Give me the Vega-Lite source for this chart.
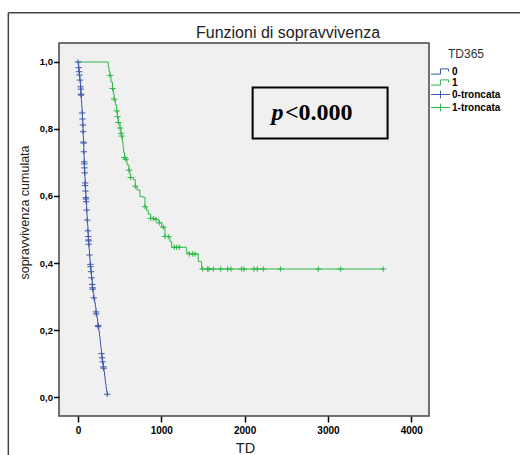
{
  "$schema": "https://vega.github.io/schema/vega-lite/v6.json",
  "width": 370,
  "height": 373,
  "autosize": {"type": "none"},
  "padding": {"left": 59, "top": 43, "right": 91, "bottom": 39},
  "background": "white",
  "title": {"text": "Funzioni di sopravvivenza", "anchor": "middle", "dx": 44, "dy": 48, "offset": 6, "baseline": "alphabetic", "frame": "group", "fontSize": 16, "fontWeight": "normal", "font": "Liberation Sans", "color": "#222"},
  "config": {"view": {"fill": "#f0f0f0", "stroke": "#444", "strokeWidth": 1.5}, "font": "Liberation Sans"},
  "data": {"values": [
    {"gruppo":"0","serie":"0-troncata","TD":0,"surv":1.0},
    {"gruppo":"0","serie":"0-troncata","TD":8,"surv":0.983},
    {"gruppo":"0","serie":"0-troncata","TD":13,"surv":0.971},
    {"gruppo":"0","serie":"0-troncata","TD":17,"surv":0.961},
    {"gruppo":"0","serie":"0-troncata","TD":23,"surv":0.946},
    {"gruppo":"0","serie":"0-troncata","TD":31,"surv":0.926},
    {"gruppo":"0","serie":"0-troncata","TD":33,"surv":0.919},
    {"gruppo":"0","serie":"0-troncata","TD":36,"surv":0.904},
    {"gruppo":"0","serie":"0-troncata","TD":37,"surv":0.901},
    {"gruppo":"0","serie":"0","TD":41,"surv":0.883},
    {"gruppo":"0","serie":"0","TD":45,"surv":0.866},
    {"gruppo":"0","serie":"0-troncata","TD":50,"surv":0.848},
    {"gruppo":"0","serie":"0-troncata","TD":54,"surv":0.830},
    {"gruppo":"0","serie":"0-troncata","TD":58,"surv":0.812},
    {"gruppo":"0","serie":"0-troncata","TD":61,"surv":0.792},
    {"gruppo":"0","serie":"0","TD":63,"surv":0.776},
    {"gruppo":"0","serie":"0-troncata","TD":66,"surv":0.761},
    {"gruppo":"0","serie":"0-troncata","TD":67,"surv":0.758},
    {"gruppo":"0","serie":"0-troncata","TD":70,"surv":0.732},
    {"gruppo":"0","serie":"0","TD":73,"surv":0.717},
    {"gruppo":"0","serie":"0-troncata","TD":75,"surv":0.702},
    {"gruppo":"0","serie":"0-troncata","TD":76,"surv":0.696},
    {"gruppo":"0","serie":"0-troncata","TD":78,"surv":0.684},
    {"gruppo":"0","serie":"0-troncata","TD":81,"surv":0.669},
    {"gruppo":"0","serie":"0","TD":83,"surv":0.654},
    {"gruppo":"0","serie":"0-troncata","TD":86,"surv":0.639},
    {"gruppo":"0","serie":"0-troncata","TD":87,"surv":0.631},
    {"gruppo":"0","serie":"0-troncata","TD":90,"surv":0.615},
    {"gruppo":"0","serie":"0-troncata","TD":95,"surv":0.595},
    {"gruppo":"0","serie":"0-troncata","TD":96,"surv":0.591},
    {"gruppo":"0","serie":"0-troncata","TD":98,"surv":0.583},
    {"gruppo":"0","serie":"0-troncata","TD":104,"surv":0.558},
    {"gruppo":"0","serie":"0","TD":107,"surv":0.543},
    {"gruppo":"0","serie":"0-troncata","TD":111,"surv":0.528},
    {"gruppo":"0","serie":"0","TD":115,"surv":0.512},
    {"gruppo":"0","serie":"0-troncata","TD":119,"surv":0.496},
    {"gruppo":"0","serie":"0-troncata","TD":123,"surv":0.479},
    {"gruppo":"0","serie":"0-troncata","TD":126,"surv":0.469},
    {"gruppo":"0","serie":"0-troncata","TD":127,"surv":0.466},
    {"gruppo":"0","serie":"0-troncata","TD":129,"surv":0.456},
    {"gruppo":"0","serie":"0","TD":133,"surv":0.440},
    {"gruppo":"0","serie":"0-troncata","TD":138,"surv":0.424},
    {"gruppo":"0","serie":"0","TD":142,"surv":0.410},
    {"gruppo":"0","serie":"0-troncata","TD":147,"surv":0.396},
    {"gruppo":"0","serie":"0-troncata","TD":150,"surv":0.389},
    {"gruppo":"0","serie":"0-troncata","TD":156,"surv":0.374},
    {"gruppo":"0","serie":"0-troncata","TD":163,"surv":0.356},
    {"gruppo":"0","serie":"0-troncata","TD":171,"surv":0.336},
    {"gruppo":"0","serie":"0-troncata","TD":175,"surv":0.326},
    {"gruppo":"0","serie":"0-troncata","TD":177,"surv":0.322},
    {"gruppo":"0","serie":"0","TD":183,"surv":0.309},
    {"gruppo":"0","serie":"0-troncata","TD":190,"surv":0.296},
    {"gruppo":"0","serie":"0","TD":200,"surv":0.282},
    {"gruppo":"0","serie":"0","TD":208,"surv":0.268},
    {"gruppo":"0","serie":"0-troncata","TD":216,"surv":0.254},
    {"gruppo":"0","serie":"0-troncata","TD":219,"surv":0.248},
    {"gruppo":"0","serie":"0","TD":227,"surv":0.236},
    {"gruppo":"0","serie":"0","TD":234,"surv":0.225},
    {"gruppo":"0","serie":"0-troncata","TD":241,"surv":0.213},
    {"gruppo":"0","serie":"0-troncata","TD":243,"surv":0.210},
    {"gruppo":"0","serie":"0","TD":250,"surv":0.196},
    {"gruppo":"0","serie":"0","TD":258,"surv":0.182},
    {"gruppo":"0","serie":"0","TD":264,"surv":0.168},
    {"gruppo":"0","serie":"0","TD":270,"surv":0.155},
    {"gruppo":"0","serie":"0","TD":276,"surv":0.142},
    {"gruppo":"0","serie":"0-troncata","TD":282,"surv":0.130},
    {"gruppo":"0","serie":"0-troncata","TD":288,"surv":0.117},
    {"gruppo":"0","serie":"0-troncata","TD":295,"surv":0.105},
    {"gruppo":"0","serie":"0-troncata","TD":304,"surv":0.090},
    {"gruppo":"0","serie":"0-troncata","TD":307,"surv":0.086},
    {"gruppo":"0","serie":"0","TD":313,"surv":0.075},
    {"gruppo":"0","serie":"0","TD":319,"surv":0.062},
    {"gruppo":"0","serie":"0","TD":325,"surv":0.050},
    {"gruppo":"0","serie":"0","TD":331,"surv":0.038},
    {"gruppo":"0","serie":"0","TD":337,"surv":0.027},
    {"gruppo":"0","serie":"0","TD":343,"surv":0.017},
    {"gruppo":"0","serie":"0-troncata","TD":351,"surv":0.008},
    {"gruppo":"1","serie":"1","TD":0,"surv":1.0},
    {"gruppo":"1","serie":"1","TD":364,"surv":0.985},
    {"gruppo":"1","serie":"1","TD":372,"surv":0.972},
    {"gruppo":"1","serie":"1-troncata","TD":384,"surv":0.960},
    {"gruppo":"1","serie":"1","TD":396,"surv":0.940},
    {"gruppo":"1","serie":"1-troncata","TD":414,"surv":0.921},
    {"gruppo":"1","serie":"1","TD":424,"surv":0.905},
    {"gruppo":"1","serie":"1-troncata","TD":434,"surv":0.889},
    {"gruppo":"1","serie":"1","TD":448,"surv":0.872},
    {"gruppo":"1","serie":"1-troncata","TD":464,"surv":0.854},
    {"gruppo":"1","serie":"1-troncata","TD":474,"surv":0.837},
    {"gruppo":"1","serie":"1-troncata","TD":484,"surv":0.819},
    {"gruppo":"1","serie":"1-troncata","TD":504,"surv":0.803},
    {"gruppo":"1","serie":"1-troncata","TD":516,"surv":0.787},
    {"gruppo":"1","serie":"1-troncata","TD":524,"surv":0.779},
    {"gruppo":"1","serie":"1","TD":532,"surv":0.762},
    {"gruppo":"1","serie":"1","TD":540,"surv":0.746},
    {"gruppo":"1","serie":"1","TD":548,"surv":0.730},
    {"gruppo":"1","serie":"1-troncata","TD":558,"surv":0.715},
    {"gruppo":"1","serie":"1-troncata","TD":572,"surv":0.710},
    {"gruppo":"1","serie":"1","TD":588,"surv":0.693},
    {"gruppo":"1","serie":"1-troncata","TD":612,"surv":0.677},
    {"gruppo":"1","serie":"1","TD":622,"surv":0.665},
    {"gruppo":"1","serie":"1-troncata","TD":632,"surv":0.655},
    {"gruppo":"1","serie":"1","TD":664,"surv":0.648},
    {"gruppo":"1","serie":"1-troncata","TD":688,"surv":0.629},
    {"gruppo":"1","serie":"1","TD":708,"surv":0.618},
    {"gruppo":"1","serie":"1","TD":744,"surv":0.598},
    {"gruppo":"1","serie":"1","TD":784,"surv":0.596},
    {"gruppo":"1","serie":"1-troncata","TD":804,"surv":0.568},
    {"gruppo":"1","serie":"1","TD":824,"surv":0.557},
    {"gruppo":"1","serie":"1","TD":844,"surv":0.546},
    {"gruppo":"1","serie":"1-troncata","TD":872,"surv":0.533},
    {"gruppo":"1","serie":"1-troncata","TD":904,"surv":0.533},
    {"gruppo":"1","serie":"1-troncata","TD":936,"surv":0.530},
    {"gruppo":"1","serie":"1","TD":964,"surv":0.527},
    {"gruppo":"1","serie":"1-troncata","TD":976,"surv":0.520},
    {"gruppo":"1","serie":"1","TD":1004,"surv":0.508},
    {"gruppo":"1","serie":"1-troncata","TD":1024,"surv":0.507},
    {"gruppo":"1","serie":"1-troncata","TD":1044,"surv":0.479},
    {"gruppo":"1","serie":"1-troncata","TD":1084,"surv":0.479},
    {"gruppo":"1","serie":"1","TD":1104,"surv":0.464},
    {"gruppo":"1","serie":"1","TD":1124,"surv":0.447},
    {"gruppo":"1","serie":"1-troncata","TD":1156,"surv":0.447},
    {"gruppo":"1","serie":"1-troncata","TD":1184,"surv":0.447},
    {"gruppo":"1","serie":"1-troncata","TD":1216,"surv":0.447},
    {"gruppo":"1","serie":"1","TD":1304,"surv":0.431},
    {"gruppo":"1","serie":"1-troncata","TD":1336,"surv":0.427},
    {"gruppo":"1","serie":"1-troncata","TD":1376,"surv":0.427},
    {"gruppo":"1","serie":"1-troncata","TD":1404,"surv":0.427},
    {"gruppo":"1","serie":"1","TD":1444,"surv":0.404},
    {"gruppo":"1","serie":"1","TD":1484,"surv":0.382},
    {"gruppo":"1","serie":"1-troncata","TD":1496,"surv":0.382},
    {"gruppo":"1","serie":"1-troncata","TD":1556,"surv":0.382},
    {"gruppo":"1","serie":"1-troncata","TD":1572,"surv":0.382},
    {"gruppo":"1","serie":"1-troncata","TD":1624,"surv":0.382},
    {"gruppo":"1","serie":"1-troncata","TD":1712,"surv":0.382},
    {"gruppo":"1","serie":"1-troncata","TD":1796,"surv":0.382},
    {"gruppo":"1","serie":"1-troncata","TD":1836,"surv":0.382},
    {"gruppo":"1","serie":"1-troncata","TD":1964,"surv":0.382},
    {"gruppo":"1","serie":"1-troncata","TD":1992,"surv":0.382},
    {"gruppo":"1","serie":"1-troncata","TD":2112,"surv":0.382},
    {"gruppo":"1","serie":"1-troncata","TD":2152,"surv":0.382},
    {"gruppo":"1","serie":"1-troncata","TD":2224,"surv":0.382},
    {"gruppo":"1","serie":"1-troncata","TD":2432,"surv":0.382},
    {"gruppo":"1","serie":"1-troncata","TD":2884,"surv":0.382},
    {"gruppo":"1","serie":"1-troncata","TD":3152,"surv":0.382},
    {"gruppo":"1","serie":"1-troncata","TD":3664,"surv":0.382}
  ]},
  "layer": [
    {
      "mark": {"type": "line", "interpolate": "step-after", "strokeWidth": 1},
      "encoding": {
        "x": {"field": "TD", "type": "quantitative", "scale": {"domain": [-228, 4213], "nice": false, "zero": false},
          "axis": {"values": [0, 1000, 2000, 3000, 4000], "format": "d", "title": "TD", "domain": false, "grid": false, "tickSize": 6, "tickWidth": 1.5, "tickColor": "#000", "labelFontSize": 10, "labelFontWeight": "bold", "labelColor": "#000", "labelPadding": 3, "labelFlush": false, "titleFontSize": 14.5, "titleFontWeight": "normal", "titleColor": "#222", "titleX": 186, "titleY": 32, "titleBaseline": "middle", "titleAlign": "center"}},
        "y": {"field": "surv", "type": "quantitative", "scale": {"domain": [-0.0567, 1.0567], "nice": false, "zero": false},
          "axis": {"values": [0, 0.2, 0.4, 0.6, 0.8, 1], "labelExpr": "replace(format(datum.value,'.1f'),'.',',')", "title": "sopravvivenza cumulata", "domain": false, "grid": false, "tickSize": 5.5, "tickWidth": 1.5, "tickColor": "#000", "labelFontSize": 9.5, "labelFontWeight": "bold", "labelColor": "#000", "labelPadding": 1, "titleFontSize": 12.5, "titleFontWeight": "normal", "titleColor": "#222", "titleX": -35, "titleY": 169, "titleBaseline": "middle", "titleAlign": "center", "titleAngle": -90}},
        "color": {"field": "gruppo", "type": "nominal",
          "scale": {"domain": ["0", "1", "0-troncata", "1-troncata"], "range": ["#3E58AC", "#2EB848", "#3E58AC", "#2EB848"]},
          "legend": {"title": "TD365", "orient": "none", "legendX": 376, "legendY": 6, "padding": 0, "titleFontSize": 12, "titleFontWeight": "normal", "titleColor": "#333", "titlePadding": 5, "labelFontSize": 10, "labelFontWeight": "bold", "labelColor": "#000", "symbolSize": 90, "rowPadding": 0, "labelOffset": 6,
            "encode": {
              "title": {"update": {"dx": {"value": 13}}},
              "symbols": {"update": {"shape": {"signal": "indexof(datum.value,'troncata')>=0 ? 'M-2,0L2,0M0,-0.8L0,0.8' : 'M-2,0.55L0,0.55L0,-0.55L1.7,-0.55L1.7,0'"}, "stroke": {"scale": "color", "field": "value"}, "fill": {"value": "transparent"}, "strokeWidth": {"value": 1}, "opacity": {"value": 1}}}
            }}},
        "order": {"field": "TD"}
      }
    },
    {
      "transform": [{"filter": "datum.serie != datum.gruppo"}],
      "mark": {"type": "point", "shape": "M-1,0H1M0,-0.85V0.85", "size": 40, "filled": false, "strokeWidth": 1, "opacity": 1},
      "encoding": {
        "x": {"field": "TD", "type": "quantitative", "scale": {"domain": [-228, 4213], "nice": false, "zero": false}},
        "y": {"field": "surv", "type": "quantitative", "scale": {"domain": [-0.0567, 1.0567], "nice": false, "zero": false}},
        "color": {"field": "serie", "type": "nominal",
          "scale": {"domain": ["0", "1", "0-troncata", "1-troncata"], "range": ["#3E58AC", "#2EB848", "#3E58AC", "#2EB848"]},
          "legend": {"title": "TD365", "orient": "none", "legendX": 376, "legendY": 6, "padding": 0, "titleFontSize": 12, "titleFontWeight": "normal", "titleColor": "#333", "titlePadding": 5, "labelFontSize": 10, "labelFontWeight": "bold", "labelColor": "#000", "symbolSize": 90, "rowPadding": 0, "labelOffset": 6,
            "encode": {
              "title": {"update": {"dx": {"value": 13}}},
              "symbols": {"update": {"shape": {"signal": "indexof(datum.value,'troncata')>=0 ? 'M-2,0L2,0M0,-0.8L0,0.8' : 'M-2,0.55L0,0.55L0,-0.55L1.7,-0.55L1.7,0'"}, "stroke": {"scale": "color", "field": "value"}, "fill": {"value": "transparent"}, "strokeWidth": {"value": 1}, "opacity": {"value": 1}}}
            }}}
      }
    },
    {
      "data": {"values": [{}]},
      "mark": {"type": "rule", "stroke": "#444", "strokeWidth": 1.5},
      "encoding": {
        "x": {"datum": -836, "type": "quantitative", "scale": {"domain": [-228, 4213], "nice": false, "zero": false}},
        "x2": {"datum": 6000},
        "y": {"datum": 1.147, "type": "quantitative", "scale": {"domain": [-0.0567, 1.0567], "nice": false, "zero": false}}
      }
    },
    {
      "data": {"values": [{}]},
      "mark": {"type": "rule", "stroke": "#444", "strokeWidth": 1.5},
      "encoding": {
        "x": {"datum": -836, "type": "quantitative", "scale": {"domain": [-228, 4213], "nice": false, "zero": false}},
        "y": {"datum": 1.147, "type": "quantitative", "scale": {"domain": [-0.0567, 1.0567], "nice": false, "zero": false}},
        "y2": {"datum": -0.3}
      }
    },
    {
      "data": {"values": [{}]},
      "mark": {"type": "rect", "stroke": "#000", "strokeWidth": 2, "fillOpacity": 0},
      "encoding": {
        "x": {"datum": 2096, "type": "quantitative", "scale": {"domain": [-228, 4213], "nice": false, "zero": false}},
        "x2": {"datum": 3716},
        "y": {"datum": 0.924, "type": "quantitative", "scale": {"domain": [-0.0567, 1.0567], "nice": false, "zero": false}},
        "y2": {"datum": 0.772}
      }
    },
    {
      "data": {"values": [{}]},
      "mark": {"type": "text", "text": "p", "font": "Liberation Serif", "fontSize": 24, "fontStyle": "italic", "fontWeight": "bold", "align": "left", "baseline": "alphabetic", "color": "#000"},
      "encoding": {
        "x": {"datum": 2324, "type": "quantitative", "scale": {"domain": [-228, 4213], "nice": false, "zero": false}},
        "y": {"datum": 0.827, "type": "quantitative", "scale": {"domain": [-0.0567, 1.0567], "nice": false, "zero": false}}
      }
    },
    {
      "data": {"values": [{}]},
      "mark": {"type": "text", "text": "<0.000", "font": "Liberation Serif", "fontSize": 24, "fontWeight": "bold", "align": "left", "baseline": "alphabetic", "color": "#000"},
      "encoding": {
        "x": {"datum": 2484, "type": "quantitative", "scale": {"domain": [-228, 4213], "nice": false, "zero": false}},
        "y": {"datum": 0.827, "type": "quantitative", "scale": {"domain": [-0.0567, 1.0567], "nice": false, "zero": false}}
      }
    }
  ]
}
